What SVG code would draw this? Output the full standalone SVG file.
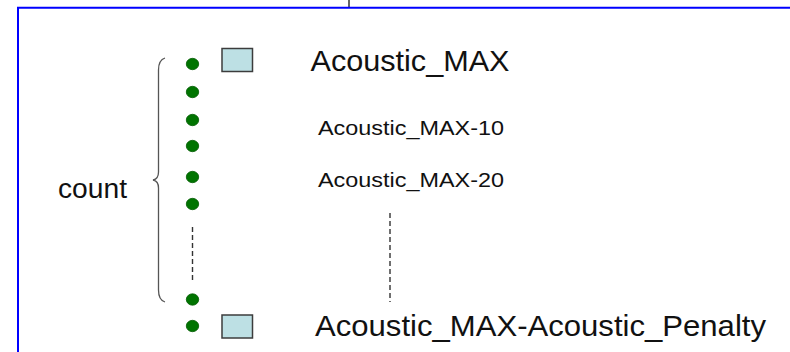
<svg xmlns="http://www.w3.org/2000/svg" width="790" height="352" viewBox="0 0 790 352">
<style>
.lbl{font-family:"Liberation Sans",Arial,sans-serif;fill:#111}
.dot{fill:#007400;stroke:#005a00;stroke-width:0.8}
.sq{fill:#bde0e4;stroke:#3c3c3c;stroke-width:1.5}
.dash{stroke:#333;stroke-width:1.4;stroke-dasharray:5 3;fill:none}
</style>
<rect width="790" height="352" fill="#fff"/>
<g id="frame">
<line x1="349" y1="0" x2="349" y2="7" stroke="#333" stroke-width="1.5"/>
<path d="M18,352 V7.8 H790" fill="none" stroke="#0000ff" stroke-width="2"/>
</g>
<g id="brace">
<path d="M165,58 Q158.5,60 158.5,70 L158.5,172 Q158.5,179 153,180 Q158.5,181 158.5,188 L158.5,290 Q158.5,300 165,302" fill="none" stroke="#555" stroke-width="1.3"/>
</g>
<g id="count"><text class="lbl" x="58" y="197.5" font-size="27" textLength="69" lengthAdjust="spacingAndGlyphs">count</text></g>
<g id="dots">
<ellipse class="dot" cx="192.5" cy="64" rx="6.2" ry="5.7"/>
<ellipse class="dot" cx="192.5" cy="92" rx="6.2" ry="5.7"/>
<ellipse class="dot" cx="192.5" cy="120" rx="6.2" ry="5.7"/>
<ellipse class="dot" cx="192.5" cy="146" rx="6.2" ry="5.7"/>
<ellipse class="dot" cx="192.5" cy="177" rx="6.2" ry="5.7"/>
<ellipse class="dot" cx="192.5" cy="204" rx="6.2" ry="5.7"/>
<ellipse class="dot" cx="192.5" cy="299.5" rx="6.2" ry="5.7"/>
<ellipse class="dot" cx="192.5" cy="326" rx="6.2" ry="5.7"/>
</g>
<g id="node-max">
<rect class="sq" x="222" y="48.5" width="30.5" height="23"/>
<text class="lbl" x="310.5" y="71" font-size="29" textLength="199" lengthAdjust="spacingAndGlyphs">Acoustic_MAX</text>
</g>
<g id="node-max10"><text class="lbl" x="318" y="135" font-size="20" textLength="186" lengthAdjust="spacingAndGlyphs">Acoustic_MAX-10</text></g>
<g id="node-max20"><text class="lbl" x="318" y="186.5" font-size="20" textLength="186" lengthAdjust="spacingAndGlyphs">Acoustic_MAX-20</text></g>
<g id="node-penalty">
<rect class="sq" x="222" y="315" width="30.5" height="23"/>
<text class="lbl" x="315" y="336" font-size="29" textLength="451" lengthAdjust="spacingAndGlyphs">Acoustic_MAX-Acoustic_Penalty</text>
</g>
<g id="connectors">
<line class="dash" x1="192.5" y1="227" x2="192.5" y2="282"/>
<line class="dash" x1="390" y1="213" x2="390" y2="302"/>
</g>
</svg>
